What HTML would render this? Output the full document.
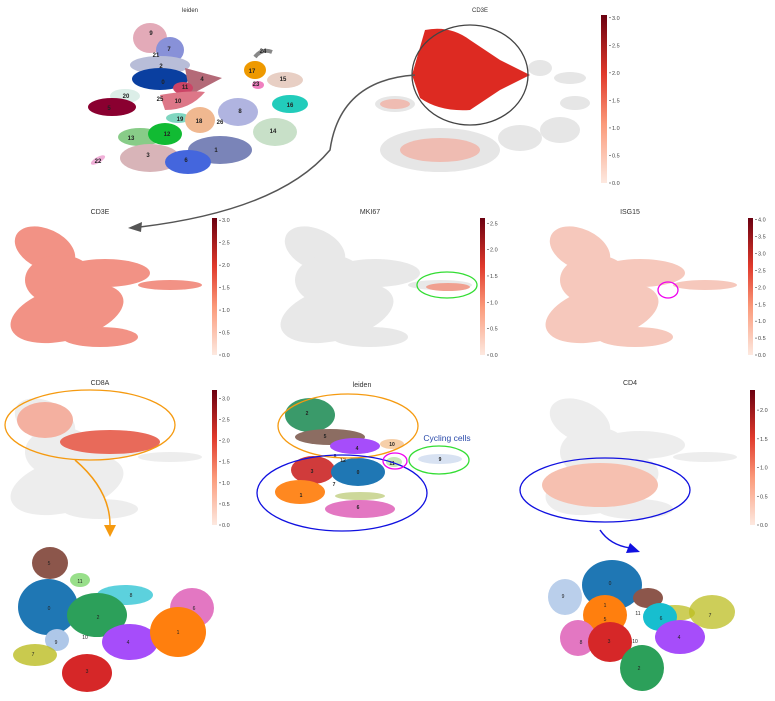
<!DOCTYPE html>
<html><head><meta charset="utf-8"><style>
body{margin:0;background:#fff}
svg{display:block;font-family:"Liberation Sans",sans-serif}
</style></head><body>
<svg width="775" height="701" viewBox="0 0 775 701">
<defs>
<linearGradient id="reds" x1="0" y1="1" x2="0" y2="0">
<stop offset="0" stop-color="#fde9e0"/><stop offset="0.35" stop-color="#fb9a7a"/><stop offset="0.65" stop-color="#e0392b"/><stop offset="1" stop-color="#6b0010"/></linearGradient>
<g id="tshape">
<ellipse cx="40" cy="24" rx="32" ry="20" transform="rotate(25 40 24)"/>
<ellipse cx="55" cy="55" rx="35" ry="25"/>
<ellipse cx="100" cy="48" rx="45" ry="14"/>
<ellipse cx="62" cy="88" rx="58" ry="27" transform="rotate(-15 62 88)"/>
<ellipse cx="95" cy="112" rx="38" ry="10"/>
<ellipse cx="165" cy="60" rx="32" ry="5"/>
</g>
</defs>

<g>
<text x="190" y="12" font-size="6" fill="#333" text-anchor="middle">leiden</text>
<ellipse cx="150" cy="38" rx="17" ry="15" fill="#e3aab8"/>
<ellipse cx="170" cy="50" rx="14" ry="13" fill="#8891d8"/>
<ellipse cx="160" cy="65" rx="30" ry="9" fill="#b8bdd8"/>
<ellipse cx="160" cy="79" rx="28" ry="11" fill="#0a3fa0"/>
<path d="M185 68 L222 78 L190 95Z" fill="#b46a78"/>
<ellipse cx="183" cy="88" rx="10" ry="6" fill="#cc4466"/>
<path d="M160 95 Q190 90 205 92 Q190 110 165 110Z" fill="#dd7788"/>
<ellipse cx="125" cy="96" rx="15" ry="7" fill="#dceee8"/>
<ellipse cx="112" cy="107" rx="24" ry="9" fill="#8a0030"/>
<ellipse cx="178" cy="118" rx="12" ry="5" fill="#7fd6c0"/>
<ellipse cx="200" cy="120" rx="15" ry="13" fill="#f0b890"/>
<ellipse cx="238" cy="112" rx="20" ry="14" fill="#b0b4e0"/>
<ellipse cx="140" cy="137" rx="22" ry="9" fill="#88cc88"/>
<ellipse cx="165" cy="134" rx="17" ry="11" fill="#11bb33"/>
<ellipse cx="150" cy="158" rx="30" ry="14" fill="#d8b4b8"/>
<ellipse cx="220" cy="150" rx="32" ry="14" fill="#7a84b8"/>
<ellipse cx="188" cy="162" rx="23" ry="12" fill="#4466dd"/>
<ellipse cx="255" cy="70" rx="11" ry="9" fill="#ee9900"/>
<ellipse cx="285" cy="80" rx="18" ry="8" fill="#e8cfc4"/>
<ellipse cx="258" cy="85" rx="6" ry="4" fill="#f080c0"/>
<path d="M255 57 Q262 48 272 52" stroke="#888" stroke-width="4" fill="none"/>
<ellipse cx="290" cy="104" rx="18" ry="9" fill="#22ccbb"/>
<ellipse cx="275" cy="132" rx="22" ry="14" fill="#c8e0c8"/>
<ellipse cx="98" cy="160" rx="8" ry="3" fill="#f0b0d8" transform="rotate(-30 98 160)"/>
<g font-size="6" fill="#222" text-anchor="middle" font-weight="bold">
<text x="151" y="35">9</text><text x="169" y="51">7</text><text x="156" y="57">21</text><text x="161" y="68">2</text><text x="163" y="84">0</text><text x="202" y="81">4</text><text x="185" y="89">11</text><text x="178" y="103">10</text><text x="160" y="101">25</text><text x="126" y="98">20</text><text x="109" y="110">5</text><text x="180" y="121">19</text><text x="199" y="123">18</text><text x="220" y="124">26</text><text x="240" y="113">8</text><text x="131" y="140">13</text><text x="167" y="136">12</text><text x="148" y="157">3</text><text x="216" y="152">1</text><text x="186" y="162">6</text><text x="252" y="73">17</text><text x="256" y="86">23</text><text x="283" y="81">15</text><text x="263" y="53">24</text><text x="290" y="107">16</text><text x="273" y="133">14</text><text x="98" y="163">22</text></g>
</g>

<g>
<text x="480" y="12" font-size="6" fill="#333" text-anchor="middle">CD3E</text>
<g fill="#e6e6e6">
<ellipse cx="540" cy="68" rx="12" ry="8"/><ellipse cx="570" cy="78" rx="16" ry="6"/><ellipse cx="575" cy="103" rx="15" ry="7"/><ellipse cx="560" cy="130" rx="20" ry="13"/>
<ellipse cx="440" cy="150" rx="60" ry="22"/><ellipse cx="520" cy="138" rx="22" ry="13"/><ellipse cx="395" cy="104" rx="20" ry="8"/>
</g>
<path d="M425 30 Q450 25 470 40 L500 60 L530 75 L500 90 L470 110 Q440 112 420 98 L412 75Z" fill="#dd2a22"/>
<g fill="#f5a090" opacity="0.6"><ellipse cx="440" cy="150" rx="40" ry="12"/><ellipse cx="395" cy="104" rx="15" ry="5"/></g>
<ellipse cx="470" cy="75" rx="58" ry="50" fill="none" stroke="#444" stroke-width="1.3"/>
<path d="M415 75 Q340 80 330 150 Q280 210 140 227" fill="none" stroke="#555" stroke-width="1.5"/>
<polygon points="128,228 142,222 141,232" fill="#555"/>
<rect x="601" y="15" width="6" height="168" fill="url(#reds)"/>
</g>

<g>
<text x="100" y="214" font-size="7" fill="#333" text-anchor="middle">CD3E</text>
<use href="#tshape" x="5" y="225" fill="#f08070" opacity="0.85"/>
<rect x="212" y="218" width="5" height="137" fill="url(#reds)"/>
</g>
<g>
<text x="370" y="214" font-size="7" fill="#333" text-anchor="middle">MKI67</text>
<use href="#tshape" x="275" y="225" fill="#e8e8e8"/>
<ellipse cx="448" cy="287" rx="22" ry="4" fill="#f0a090"/>
<ellipse cx="447" cy="285" rx="30" ry="13" fill="none" stroke="#33dd33" stroke-width="1.3"/>
<rect x="480" y="218" width="5" height="137" fill="url(#reds)"/>
</g>
<g>
<text x="630" y="214" font-size="7" fill="#333" text-anchor="middle">ISG15</text>
<use href="#tshape" x="540" y="225" fill="#f6c8bc"/>
<ellipse cx="668" cy="290" rx="10" ry="8" fill="none" stroke="#ee00ee" stroke-width="1.3"/>
<rect x="748" y="218" width="5" height="137" fill="url(#reds)"/>
</g>
<g>
<text x="100" y="385" font-size="7" fill="#333" text-anchor="middle">CD8A</text>
<use href="#tshape" x="5" y="397" fill="#ededed"/>
<ellipse cx="45" cy="420" rx="28" ry="18" fill="#f4b0a0"/><ellipse cx="110" cy="442" rx="50" ry="12" fill="#e86a5a"/>
<ellipse cx="90" cy="425" rx="85" ry="35" fill="none" stroke="#f59a10" stroke-width="1.3"/>
<path d="M75 460 Q110 490 110 525" fill="none" stroke="#f59a10" stroke-width="1.5"/><polygon points="104,525 116,525 110,537" fill="#f59a10"/>
<rect x="212" y="390" width="5" height="135" fill="url(#reds)"/>
</g>
<g>
<text x="362" y="387" font-size="7" fill="#333" text-anchor="middle">leiden</text>
<ellipse cx="310" cy="415" rx="25" ry="17" fill="#3a9a6a"/>
<ellipse cx="330" cy="437" rx="35" ry="8" fill="#8c6d62"/>
<ellipse cx="355" cy="446" rx="25" ry="8" fill="#a64dfa"/>
<ellipse cx="392" cy="444" rx="12" ry="5" fill="#f6cfa8"/>
<ellipse cx="394" cy="462" rx="8" ry="5" fill="#c8e8b8"/>
<ellipse cx="313" cy="470" rx="22" ry="14" fill="#d03b3b"/>
<ellipse cx="358" cy="472" rx="27" ry="14" fill="#1f77b4"/>
<ellipse cx="300" cy="492" rx="25" ry="12" fill="#ff8820"/>
<ellipse cx="360" cy="496" rx="25" ry="4" fill="#cdd89a"/>
<ellipse cx="360" cy="509" rx="35" ry="9" fill="#e377c2"/>
<ellipse cx="440" cy="459" rx="22" ry="5" fill="#d8e2f2"/>
<g font-size="5" fill="#222" text-anchor="middle" font-weight="bold">
<text x="307" y="415">2</text><text x="325" y="438">5</text><text x="357" y="450">4</text><text x="392" y="446">10</text><text x="335" y="458">8</text><text x="343" y="462">12</text><text x="392" y="465">11</text><text x="312" y="473">3</text><text x="358" y="474">0</text><text x="334" y="486">7</text><text x="301" y="497">1</text><text x="358" y="509">6</text><text x="440" y="461">9</text></g>
<ellipse cx="348" cy="426" rx="70" ry="32" fill="none" stroke="#f59a10" stroke-width="1.3"/>
<ellipse cx="342" cy="493" rx="85" ry="38" fill="none" stroke="#1010e0" stroke-width="1.3"/>
<ellipse cx="395" cy="461" rx="12" ry="8" fill="none" stroke="#ee00ee" stroke-width="1.3"/>
<ellipse cx="439" cy="460" rx="30" ry="14" fill="none" stroke="#33dd33" stroke-width="1.3"/>
<text x="447" y="441" font-size="8.5" fill="#2a4aaa" text-anchor="middle">Cycling cells</text>
</g>
<g>
<text x="630" y="385" font-size="7" fill="#333" text-anchor="middle">CD4</text>
<use href="#tshape" x="540" y="397" fill="#ededed"/>
<ellipse cx="600" cy="485" rx="58" ry="22" fill="#f6c0b0"/>
<ellipse cx="605" cy="490" rx="85" ry="32" fill="none" stroke="#1010e0" stroke-width="1.3"/>
<path d="M600 530 Q610 545 630 548" fill="none" stroke="#1010e0" stroke-width="1.5"/><polygon points="640,552 626,553 630,543" fill="#1010e0"/>
<rect x="750" y="390" width="5" height="135" fill="url(#reds)"/>
</g>

<g>
<ellipse cx="50" cy="563" rx="18" ry="16" fill="#8c564b"/>
<ellipse cx="80" cy="580" rx="10" ry="7" fill="#98df8a"/>
<ellipse cx="125" cy="595" rx="28" ry="10" fill="#17becf" opacity="0.7"/>
<ellipse cx="192" cy="608" rx="22" ry="20" fill="#e377c2"/>
<ellipse cx="48" cy="607" rx="30" ry="28" fill="#1f77b4"/>
<ellipse cx="97" cy="615" rx="30" ry="22" fill="#2ca05a"/>
<ellipse cx="130" cy="642" rx="28" ry="18" fill="#a64dfa"/>
<ellipse cx="178" cy="632" rx="28" ry="25" fill="#ff7f0e"/>
<ellipse cx="57" cy="640" rx="12" ry="11" fill="#aec7e8"/>
<ellipse cx="35" cy="655" rx="22" ry="11" fill="#bcbd22" opacity="0.8"/>
<ellipse cx="87" cy="673" rx="25" ry="19" fill="#d62728"/>
<g font-size="5" fill="#222" text-anchor="middle"><text x="49" y="565">5</text><text x="80" y="583">11</text><text x="131" y="597">8</text><text x="194" y="610">6</text><text x="49" y="610">0</text><text x="98" y="619">2</text><text x="85" y="639">10</text><text x="128" y="644">4</text><text x="178" y="634">1</text><text x="56" y="644">9</text><text x="33" y="656">7</text><text x="87" y="673">3</text></g>
</g>

<g>
<ellipse cx="565" cy="597" rx="17" ry="18" fill="#aec7e8" opacity="0.85"/>
<ellipse cx="712" cy="612" rx="23" ry="17" fill="#bcbd22" opacity="0.75"/>
<ellipse cx="675" cy="613" rx="20" ry="8" fill="#bcbd22" opacity="0.75"/>
<ellipse cx="612" cy="585" rx="30" ry="25" fill="#1f77b4"/>
<ellipse cx="648" cy="598" rx="15" ry="10" fill="#8c564b"/>
<ellipse cx="605" cy="615" rx="22" ry="20" fill="#ff7f0e"/>
<ellipse cx="660" cy="617" rx="17" ry="14" fill="#17becf"/>
<ellipse cx="680" cy="637" rx="25" ry="17" fill="#a64dfa"/>
<ellipse cx="578" cy="638" rx="18" ry="18" fill="#e377c2"/>
<ellipse cx="610" cy="642" rx="22" ry="20" fill="#d62728"/>
<ellipse cx="642" cy="668" rx="22" ry="23" fill="#2ca05a"/>
<g font-size="5" fill="#222" text-anchor="middle"><text x="563" y="598">9</text><text x="610" y="585">0</text><text x="605" y="607">1</text><text x="605" y="621">5</text><text x="638" y="615">11</text><text x="661" y="620">6</text><text x="710" y="617">7</text><text x="679" y="639">4</text><text x="581" y="644">8</text><text x="609" y="643">3</text><text x="635" y="643">10</text><text x="639" y="670">2</text></g>
</g>

<script>
const tickSets = [
 {x:609, top:15, h:168, ticks:["0.0","0.5","1.0","1.5","2.0","2.5","3.0"], vmax:3.05},
 {x:219, top:218, h:137, ticks:["0.0","0.5","1.0","1.5","2.0","2.5","3.0"], vmax:3.05},
 {x:487, top:218, h:137, ticks:["0.0","0.5","1.0","1.5","2.0","2.5"], vmax:2.6},
 {x:755, top:218, h:137, ticks:["0.0","0.5","1.0","1.5","2.0","2.5","3.0","3.5","4.0"], vmax:4.05},
 {x:219, top:390, h:135, ticks:["0.0","0.5","1.0","1.5","2.0","2.5","3.0"], vmax:3.2},
 {x:757, top:390, h:135, ticks:["0.0","0.5","1.0","1.5","2.0"], vmax:2.35}
];
const svg=document.querySelector('svg');
tickSets.forEach(s=>{
 s.ticks.forEach(t=>{
  const v=parseFloat(t);
  const y=s.top+s.h - v/s.vmax*s.h;
  const tx=document.createElementNS('http://www.w3.org/2000/svg','text');
  
  
  tx.setAttribute('x',s.x+3);tx.setAttribute('y',y+2);
  tx.setAttribute('font-size','5.5');tx.setAttribute('fill','#444');
  tx.textContent=t;svg.appendChild(tx);
  const ln=document.createElementNS('http://www.w3.org/2000/svg','line');
  
  
  ln.setAttribute('x1',s.x);ln.setAttribute('x2',s.x+2);ln.setAttribute('y1',y);ln.setAttribute('y2',y);
  ln.setAttribute('stroke','#444');ln.setAttribute('stroke-width','0.6');svg.appendChild(ln);
 });
});
</script>
</svg>
</body></html>
